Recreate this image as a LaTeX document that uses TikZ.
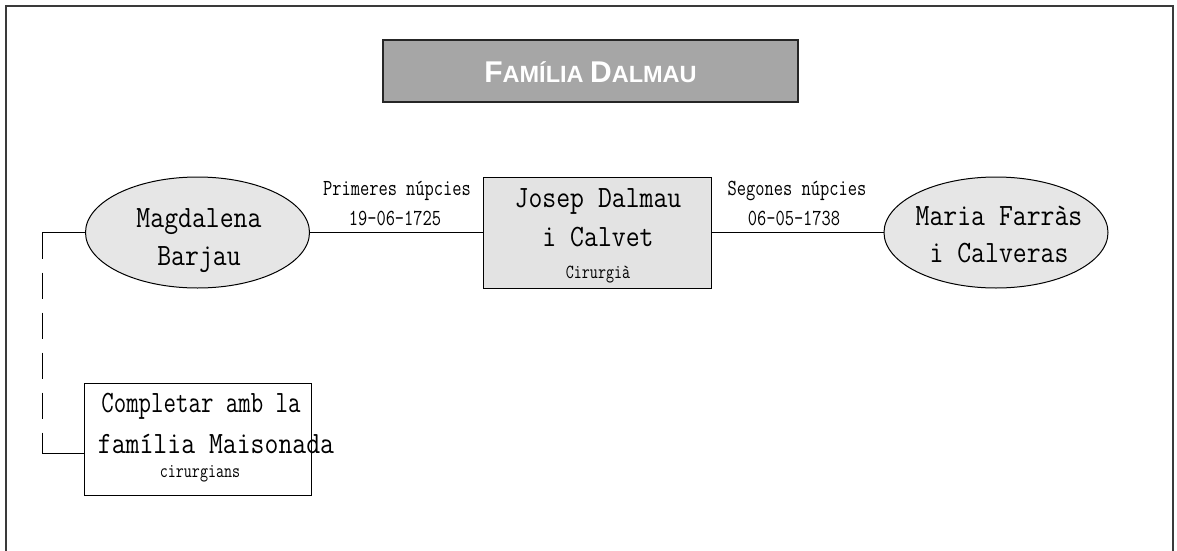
\documentclass[tikz,border=0pt]{standalone}
\usepackage{fontspec}
\usetikzlibrary{shapes.geometric}
\newfontfamily\monomain[FakeStretch=0.87]{Latin Modern Mono}
\newfontfamily\monotight[FakeStretch=0.78]{Latin Modern Mono}
\newfontfamily\monosmall[FakeStretch=0.78]{Latin Modern Mono}
\newfontfamily\titlef{Liberation Sans}
\definecolor{titlegray}{HTML}{A6A6A6}
\definecolor{lightfill}{HTML}{E6E6E6}
\definecolor{boxfill}{HTML}{E3E3E3}
\definecolor{framegray}{HTML}{3A3A3A}
\tikzset{
  personell/.style={draw=black, line width=1pt, fill=lightfill, ellipse, inner sep=0pt, minimum width=224pt, minimum height=111pt},
  personbox/.style={draw=black, line width=1pt, fill=boxfill, rectangle, inner sep=0pt},
  notebox/.style={draw=black, line width=1pt, fill=white, rectangle, inner sep=0pt},
  titlebox/.style={draw=black!85, line width=2.2pt, fill=titlegray, rectangle, inner sep=0pt},
  maintxt/.style={anchor=base, inner sep=0pt, font=\monomain\fontsize{31}{33}\selectfont},
  tighttxt/.style={anchor=base, inner sep=0pt, font=\monotight\fontsize{31}{33}\selectfont},
  smalltxt/.style={anchor=base, inner sep=0pt, font=\monosmall\fontsize{20}{22}\selectfont},
  labeltxt/.style={anchor=base, inner sep=0pt, font=\monosmall\fontsize{23}{25}\selectfont},
  link/.style={draw=black, line width=1pt},
}
\begin{document}
\begin{tikzpicture}[x=1pt,y=-1pt]
\useasboundingbox (0,0) rectangle (1177,551);
% frame
\draw[framegray, line width=1.6pt] (6,560) -- (6,6) -- (1173,6) -- (1173,560);
% title
\node[titlebox, minimum width=415pt, minimum height=62pt] (title) at (590.5,71) {};
\node[anchor=base, inner sep=0pt, text=white, font=\titlef\bfseries] (titletext) at (590.5,82)
  {\fontsize{30}{32}\selectfont F\fontsize{23.5}{26}\selectfont AMÍLIA \fontsize{30}{32}\selectfont D\fontsize{23.5}{26}\selectfont ALMAU};
% persons
\node[personell] (mag) at (197.5,232.5) {};
\node[personbox, minimum width=228pt, minimum height=111pt] (jos) at (597,232.5) {};
\node[personell] (mar) at (996,232.5) {};
\node[notebox, minimum width=227pt, minimum height=112pt] (comp) at (197.5,439) {};
% texts
\node[maintxt] (magA) at (199,227) {Magdalena};
\node[maintxt] (magB) at (199,265) {Barjau};
\node[maintxt] (josA) at (598,207) {Josep Dalmau};
\node[maintxt] (josB) at (598,246) {i Calvet};
\node[smalltxt] (josC) at (598,278) {Cirurgià};
\node[maintxt] (marA) at (999,225) {Maria Farràs};
\node[maintxt] (marB) at (999,262) {i Calveras};
\node[tighttxt] (compA) at (201,412) {Completar amb la};
\node[maintxt] (compB) at (216,453) {família Maisonada};
\node[smalltxt] (compC) at (200,477) {cirurgians};
% labels
\node[labeltxt] (l1a) at (397,195) {Primeres núpcies};
\node[labeltxt] (l1b) at (395,225) {19-06-1725};
\node[labeltxt] (l2a) at (797,195) {Segones núpcies};
\node[labeltxt] (l2b) at (794,225) {06-05-1738};
% connectors
\draw[link] (mag.east) -- (jos.west);
\draw[link] (jos.east) -- (mar.west);
\coordinate (c1) at (42,232.5);
\coordinate (c2) at (42,453);
\draw[link] (mag.west) -- (c1);
\draw[link, dash pattern=on 26pt off 14pt] (c1) -- (c2);
\draw[link] (c2) -- (c2 -| comp.west);
\end{tikzpicture}
\end{document}
